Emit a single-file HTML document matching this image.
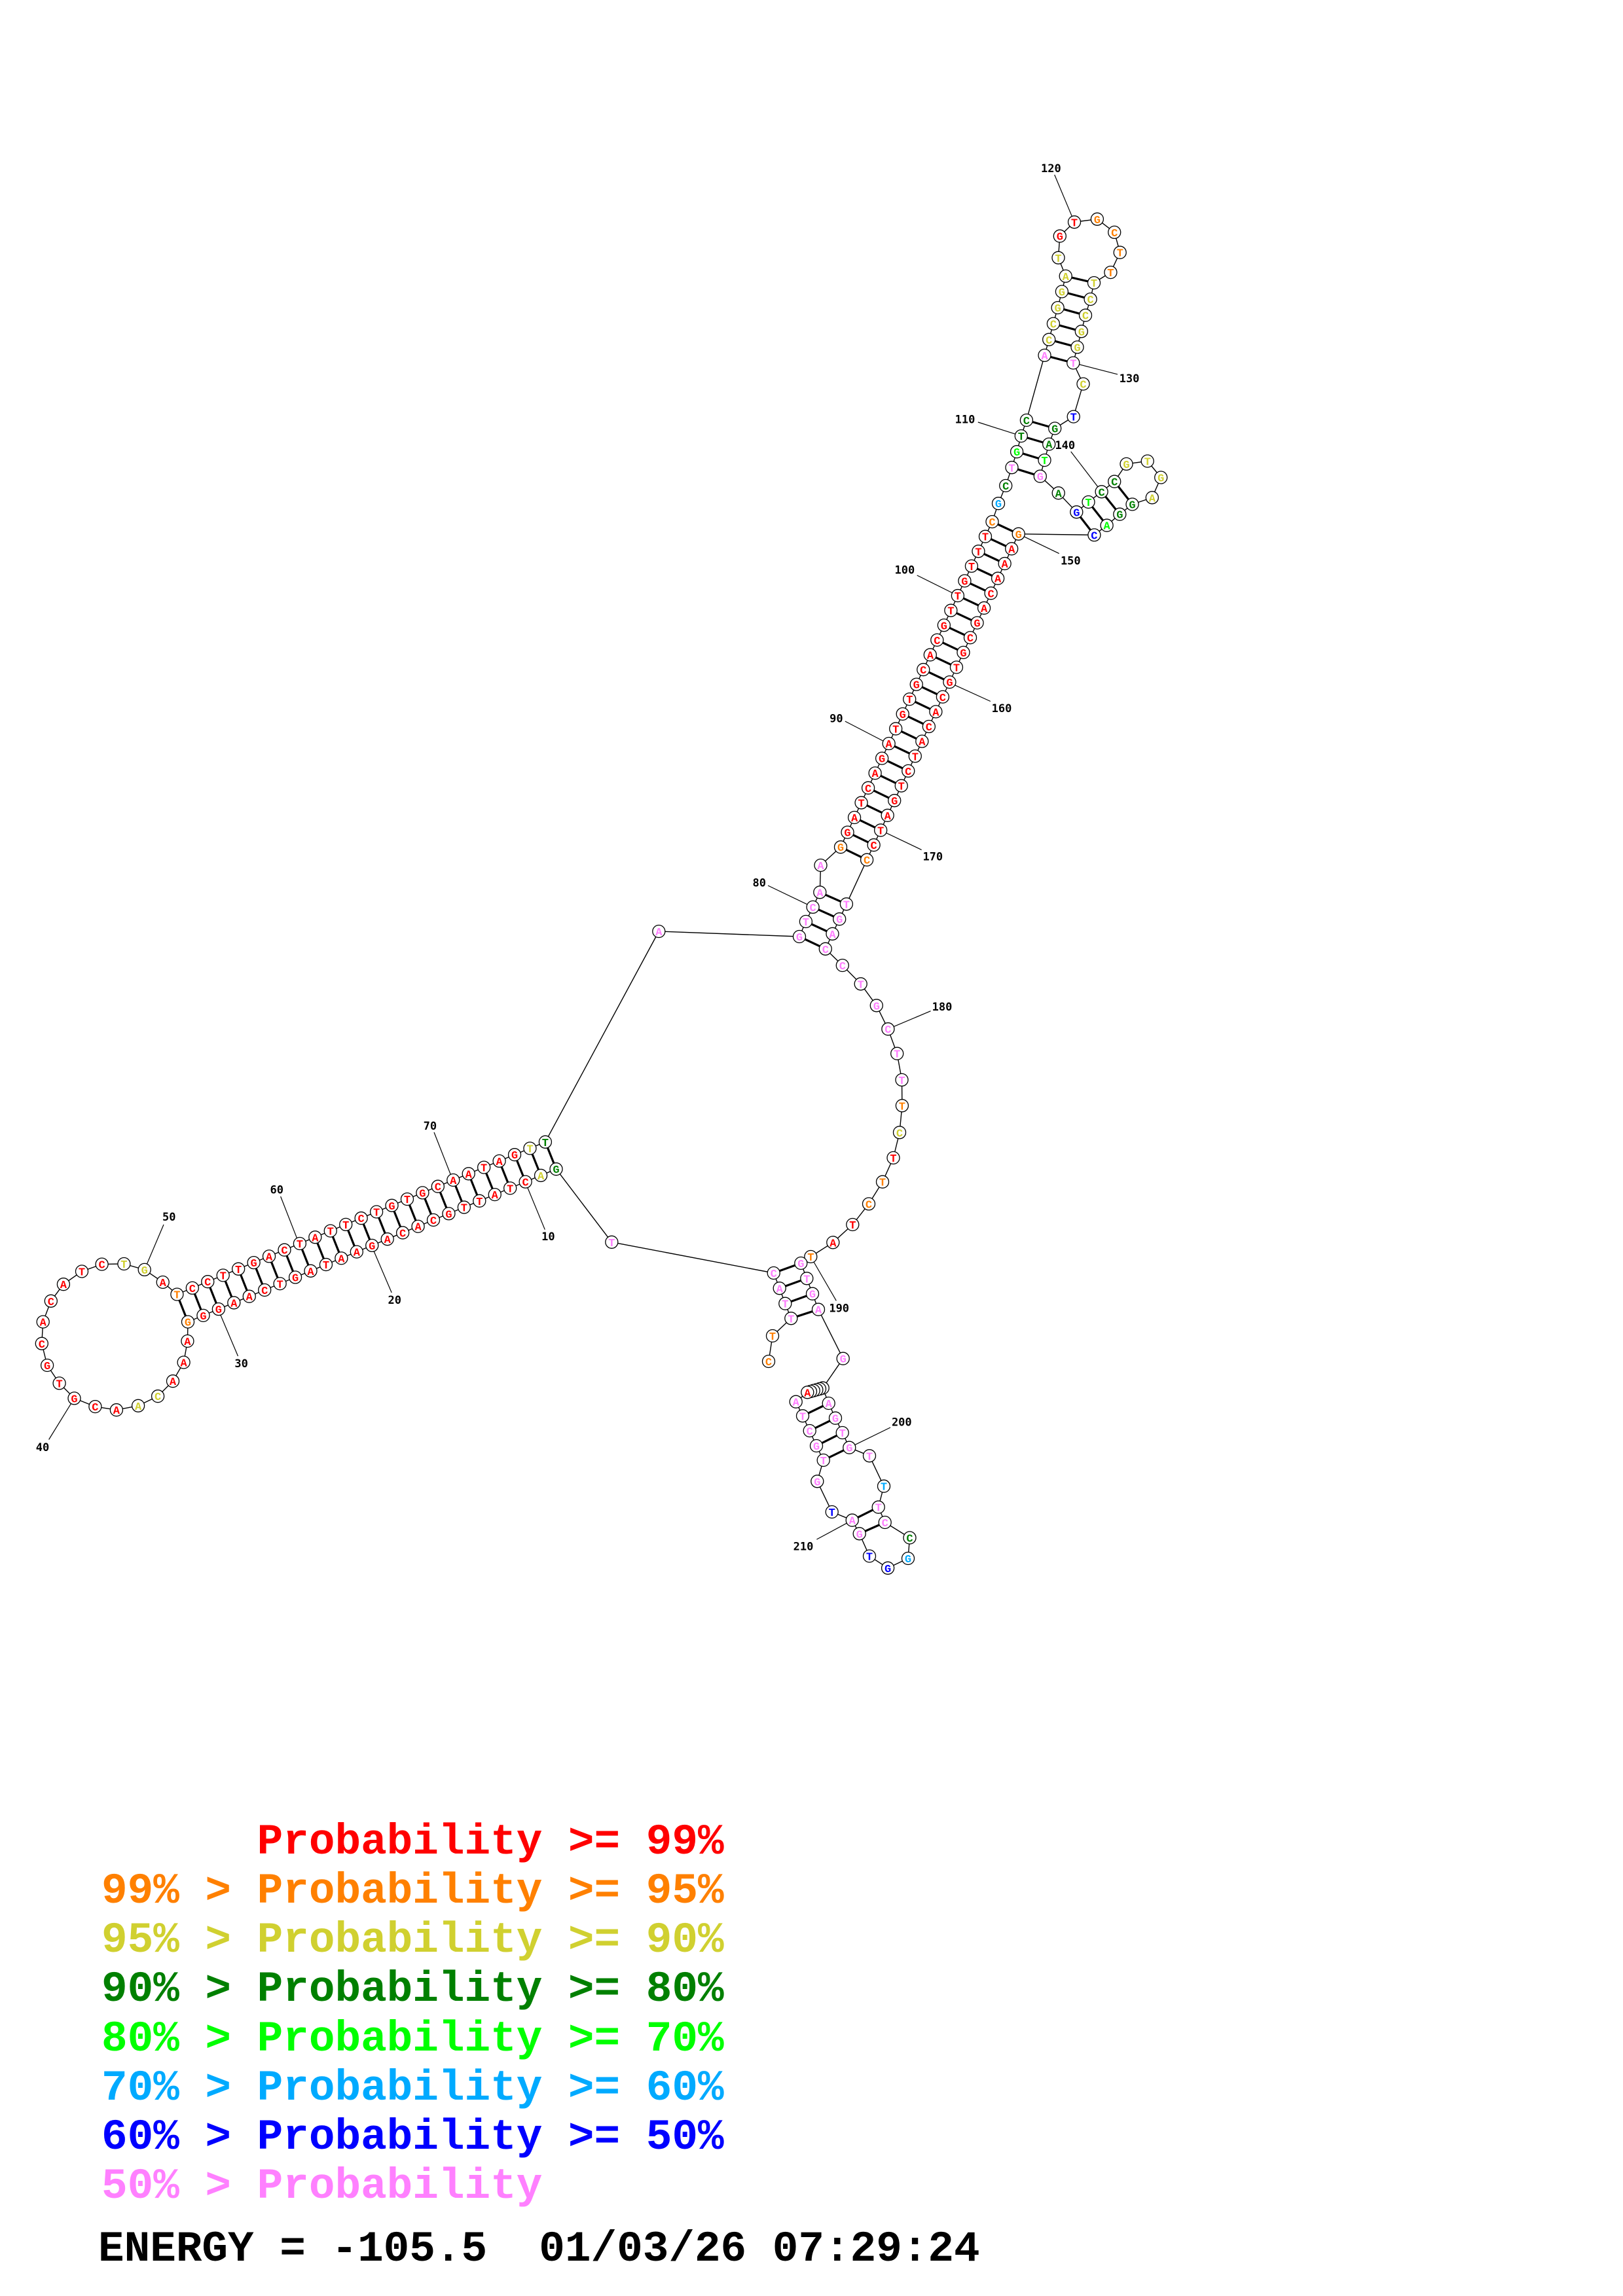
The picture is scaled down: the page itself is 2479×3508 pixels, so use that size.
<!DOCTYPE html>
<html><head><meta charset="utf-8"><style>
html,body{margin:0;padding:0;background:#fff;}
svg{display:block;}
.n{font-family:"Liberation Mono",monospace;font-weight:bold;font-size:17px;text-anchor:middle;}
.lb{font-family:"DejaVu Sans Mono","Liberation Mono",monospace;font-weight:bold;font-size:17px;text-anchor:middle;}
.lg{font-family:"Liberation Mono",monospace;font-weight:bold;font-size:66px;white-space:pre;}
</style></head><body>
<svg id="s" width="2479" height="3508" viewBox="0 0 2479 3508" xmlns="http://www.w3.org/2000/svg">
<g id="lines"></g><g id="nodes"></g><g id="labels"></g>
<g>
<text class="lg" x="155" y="2832" fill="#ff0000" xml:space="preserve">      Probability &gt;= 99%</text>
<text class="lg" x="155" y="2907" fill="#ff8000" xml:space="preserve">99% &gt; Probability &gt;= 95%</text>
<text class="lg" x="155" y="2982" fill="#d0d030" xml:space="preserve">95% &gt; Probability &gt;= 90%</text>
<text class="lg" x="155" y="3057" fill="#008000" xml:space="preserve">90% &gt; Probability &gt;= 80%</text>
<text class="lg" x="155" y="3133" fill="#00ff00" xml:space="preserve">80% &gt; Probability &gt;= 70%</text>
<text class="lg" x="155" y="3208" fill="#00aaff" xml:space="preserve">70% &gt; Probability &gt;= 60%</text>
<text class="lg" x="155" y="3283" fill="#0000ff" xml:space="preserve">60% &gt; Probability &gt;= 50%</text>
<text class="lg" x="155" y="3358" fill="#ff80ff" xml:space="preserve">50% &gt; Probability</text>
<text class="lg" x="150" y="3454" fill="#000" xml:space="preserve">ENERGY = -105.5  01/03/26 07:29:24</text>
</g>
</svg>
<script>
var C={R:"#ff0000",O:"#ff8000",Y:"#d0d030",D:"#008000",L:"#00ff00",B:"#00aaff",U:"#0000ff",P:"#ff80ff"};
var L=[],N=[],T=[];
function nd(x,y,ch,c){return {x:x,y:y,ch:ch,c:c};}
function strand(x0,y0,x1,y1,letters,cols){var a=[],n=letters.length;for(var i=0;i<n;i++){var t=i/(n-1);a.push(nd(x0+(x1-x0)*t,y0+(y1-y0)*t,letters[i],cols[i]));}return a;}
function bb(arr){for(var i=0;i<arr.length-1;i++)L.push('<line x1="'+arr[i].x+'" y1="'+arr[i].y+'" x2="'+arr[i+1].x+'" y2="'+arr[i+1].y+'" stroke="#000" stroke-width="1.4"/>');}
function pr(a,b){L.push('<line x1="'+a.x+'" y1="'+a.y+'" x2="'+b.x+'" y2="'+b.y+'" stroke="#000" stroke-width="3.2"/>');}
function lab(tx,ty,lx,ly,nx,ny,s){L.push('<line x1="'+lx+'" y1="'+ly+'" x2="'+nx+'" y2="'+ny+'" stroke="#000" stroke-width="1.2"/>');T.push('<text class="lb" x="'+tx+'" y="'+(ty+6)+'">'+s+'</text>');}
function P(list){return list.map(function(q){return nd(q[0],q[1],q[2],q[3]);});}
// Stem 1
var up=strand(270.4,1977.6,832.9,1744.8,"TCCTTGACTATTCTGTGCAATAGTT","ORRRRRRRRRRRRRRRRRRRRRRYD");
var lo=strand(287,2019.6,849.5,1786.2,"GGGAACTGATAAGACACGTTATCAG","ORRRRRRRRRRRRRRRRRRRRRRYD");
var loop=P([[286.4,2049,"A","R"],[280.6,2081.5,"A","R"],[264,2110.2,"A","R"],[241.1,2133.2,"C","Y"],[211.1,2147.8,"A","Y"],[177.9,2154.2,"A","R"],[145.4,2149.1,"C","R"],[113.5,2136.4,"G","R"],[90.6,2113.4,"T","R"],[72.1,2086,"G","R"],[63.8,2052.8,"C","R"],[65.7,2019.6,"A","R"],[77.8,1987.8,"C","R"],[96.9,1962.2,"A","R"],[125,1942.5,"T","R"],[155.6,1931.6,"C","R"],[189.4,1931,"T","Y"],[220.7,1939.9,"G","Y"],[248.7,1959,"A","R"]]);
var Apk=nd(1006.3,1423,"A","P"), Tpk=nd(934.3,1897.8,"T","P");
var s5=P([[1181.7,1945,"C","P"],[1190.7,1968.3,"A","P"],[1199.3,1991.7,"T","P"],[1208.3,2014.3,"T","P"],[1180,2041,"T","O"],[1174,2080,"C","O"]]);
var p1=[Apk].concat(up.slice().reverse(),loop.slice().reverse(),lo,[Tpk],s5);
bb(p1);
for(var i=0;i<25;i++)pr(up[i],lo[i]);
// small stem 80
var sL=P([[1221,1431,"G","P"],[1230.9,1408,"T","P"],[1241.6,1385.9,"C","P"],[1252.3,1363.3,"A","P"],[1253.5,1322,"A","P"]]);
var sR=P([[1324.1,1313.7,"C","O"],[1292.9,1381.3,"T","P"],[1282.2,1404.2,"G","P"],[1271.5,1426.8,"A","P"],[1260.8,1449.8,"C","P"]]);
var s2L=strand(1284,1294.2,1515.5,797.1,"GGATCAGATGTGCACGTTGTTTC","ORRRRRRRRRRRRRRRRRRRRRO");
var s2R=strand(1324.1,1313.7,1555.7,815.8,"CCTAGTCTACACGTGCGACAAAG","ORRRRRRRRRRRRRRRRRRRRRO");
var top1=P([[1525,769.2,"G","B"],[1536.2,742,"C","D"],[1545.5,714.3,"T","P"],[1553.1,690.2,"G","L"],[1559.8,666.1,"T","D"],[1567.9,642,"C","D"],[1595.5,542.9,"A","P"],[1602.2,518.8,"C","Y"],[1608.9,494.6,"C","Y"],[1615.6,470.1,"G","Y"],[1621.9,445.5,"G","Y"],[1627.7,421.9,"A","Y"],[1616.5,393.8,"T","Y"],[1618.8,360.7,"G","R"],[1641,339.3,"T","R"],[1675.9,334.8,"G","O"],[1702.2,354.9,"C","O"],[1710.7,385.7,"T","O"],[1696.4,416.1,"T","O"],[1671,432.1,"T","Y"],[1665.6,457.1,"C","Y"],[1658,481.7,"C","Y"],[1651.8,506.3,"G","Y"],[1645.5,530.4,"G","Y"],[1639.3,554.5,"T","P"],[1654.5,586.6,"C","Y"],[1639.7,636.6,"T","U"],[1611.2,654.5,"G","D"],[1602.2,678.6,"A","D"],[1595.5,703.1,"T","L"],[1588.8,727.7,"G","P"],[1616.7,753.3,"A","D"],[1644.3,782.3,"G","U"],[1662.5,767,"T","L"],[1682.6,751.3,"C","D"],[1702.2,735.7,"C","D"],[1720.5,708.9,"G","Y"],[1752.7,704.5,"T","Y"],[1773.2,729.5,"G","Y"],[1759.8,760.3,"A","Y"],[1729.5,770.5,"G","D"],[1710.3,785.7,"G","D"],[1690.6,802.7,"A","L"],[1671.4,817.4,"C","U"]]);
var chain=P([[1286.8,1475,"C","P"],[1314.7,1503.3,"T","P"],[1338.8,1536.3,"G","P"],[1356.4,1572.2,"C","P"],[1370.2,1609.7,"T","P"],[1377.5,1649.9,"T","P"],[1377.9,1689.3,"T","O"],[1374,1730.3,"C","Y"],[1364.5,1769,"T","R"],[1348,1805.7,"T","O"],[1327,1839.4,"C","O"],[1302.3,1871,"T","R"],[1272.3,1898.3,"A","R"],[1238.3,1920,"T","O"]]);
var st3=P([[1223.3,1930,"G","P"],[1232.3,1953.3,"T","P"],[1241,1976.7,"G","P"],[1250,2000.7,"A","P"],[1287.7,2075.7,"G","P"]]);
var p2=[Apk].concat(sL,s2L,top1,s2R.slice().reverse().slice(0,22),[s2R[0]],sR.slice(1),chain,st3);
// fix: s2R reversed from top to bottom already includes s2R[0]; rebuild cleanly
p2=[Apk].concat(sL,s2L,top1,s2R.slice().reverse(),sR.slice(1),chain,st3);
bb(p2);
for(i=0;i<23;i++)pr(s2L[i],s2R[i]);
pr(sL[4-1],sR[1]);pr(sL[2],sR[2]);pr(sL[1],sR[3]);pr(sL[0],sR[4]);
// top pairs
function tp(a,b){pr(top1[a],top1[b]);}
tp(11,19);tp(10,20);tp(9,21);tp(8,22);tp(7,23);tp(6,24);tp(5,27);tp(4,28);tp(3,29);tp(2,30);tp(32,43);tp(33,42);tp(34,41);tp(35,40);
// stem 190 pairs
pr(st3[0],s5[0]);pr(st3[1],s5[1]);pr(st3[2],s5[2]);pr(st3[3],s5[3]);
// bottom hairpin
var cl=[];for(i=0;i<6;i++)cl.push(nd(1256.7-(23.4*i/5),2120.7+(6.6*i/5),i==5?"A":"",i==5?"R":"P"));
var bL=P([[1215.7,2141.7,"A","P"],[1226,2163.3,"T","P"],[1236.7,2186,"C","P"],[1247,2209,"G","P"],[1257.7,2231,"T","P"],[1248.3,2263.3,"G","P"],[1270.7,2310,"T","U"],[1301.7,2322.7,"A","P"],[1312.7,2343.3,"G","P"],[1328,2377.5,"T","U"],[1356.1,2395.8,"G","U"],[1387,2381,"G","B"],[1389.5,2349.5,"C","D"],[1351.7,2326,"C","P"],[1341.7,2302.7,"T","P"],[1350,2270.7,"T","B"],[1328,2224.3,"T","P"],[1297.3,2211.7,"G","P"],[1286.7,2189,"T","P"],[1276,2166.7,"G","P"],[1265.7,2144,"A","P"]]);
bb([st3[4],cl[0]]);bb([cl[5],bL[0]]);bb(bL);bb([bL[20],cl[0]]);
pr(bL[1],bL[20]);pr(bL[2],bL[19]);pr(bL[3],bL[18]);pr(bL[4],bL[17]);pr(bL[7],bL[14]);pr(bL[8],bL[13]);
// labels
lab(837.4,1889,832.3,1878.7,802.3,1806,"10");
lab(602.7,1985.8,598.2,1975,567.6,1903.6,"20");
lab(368.6,2082.8,363.5,2072,333,2000,"30");
lab(65,2211,74.6,2199.5,113.5,2136.4,"40");
lab(258.3,1859,250,1871,220.7,1940,"50");
lab(422.8,1817.5,428.6,1828,456.6,1899.7,"60");
lab(656.9,1720,663,1730,692,1804,"70");
lab(1159.7,1348.7,1173,1353,1241.6,1385.9,"80");
lab(1277.4,1097.5,1290.8,1102,1357.4,1136.5,"90");
lab(1381.9,870.6,1400.7,879,1463,910,"100");
lab(1474,640.6,1493.8,645,1559.8,666.1,"110");
lab(1605.4,257,1610.7,267,1641,339.3,"120");
lab(1725,578,1707,571.9,1639.3,554.5,"130");
lab(1626.8,680,1635.7,690,1682.6,751.3,"140");
lab(1635.3,856.4,1617.7,845.7,1555.7,815.8,"150");
lab(1530,1082,1512.8,1071.5,1449.7,1042.8,"160");
lab(1424.8,1308.7,1407.6,1298.4,1345.2,1268.6,"170");
lab(1439,1538,1421.5,1544.7,1356.4,1572.2,"180");
lab(1281.7,1998.3,1277.3,1987.3,1238.3,1920,"190");
lab(1377.3,2172.3,1360,2181,1297.3,2211.7,"200");
lab(1227,2362.5,1247.4,2352,1301.7,2322.7,"210");
// nodes
var all=[].concat(up,lo,loop,[Apk,Tpk],s5,sL,sR.slice(1),s2L,s2R,top1,chain,st3,cl,bL);
all.forEach(function(q){N.push('<circle cx="'+q.x+'" cy="'+q.y+'" r="9.5" fill="#fff" stroke="#000" stroke-width="1.3"/>');if(q.ch)N.push('<text class="n" x="'+q.x+'" y="'+(q.y+6)+'" fill="'+C[q.c]+'">'+q.ch+'</text>');});
document.getElementById("lines").innerHTML=L.join("");
document.getElementById("nodes").innerHTML=N.join("");
document.getElementById("labels").innerHTML=T.join("");
</script>
</body></html>
